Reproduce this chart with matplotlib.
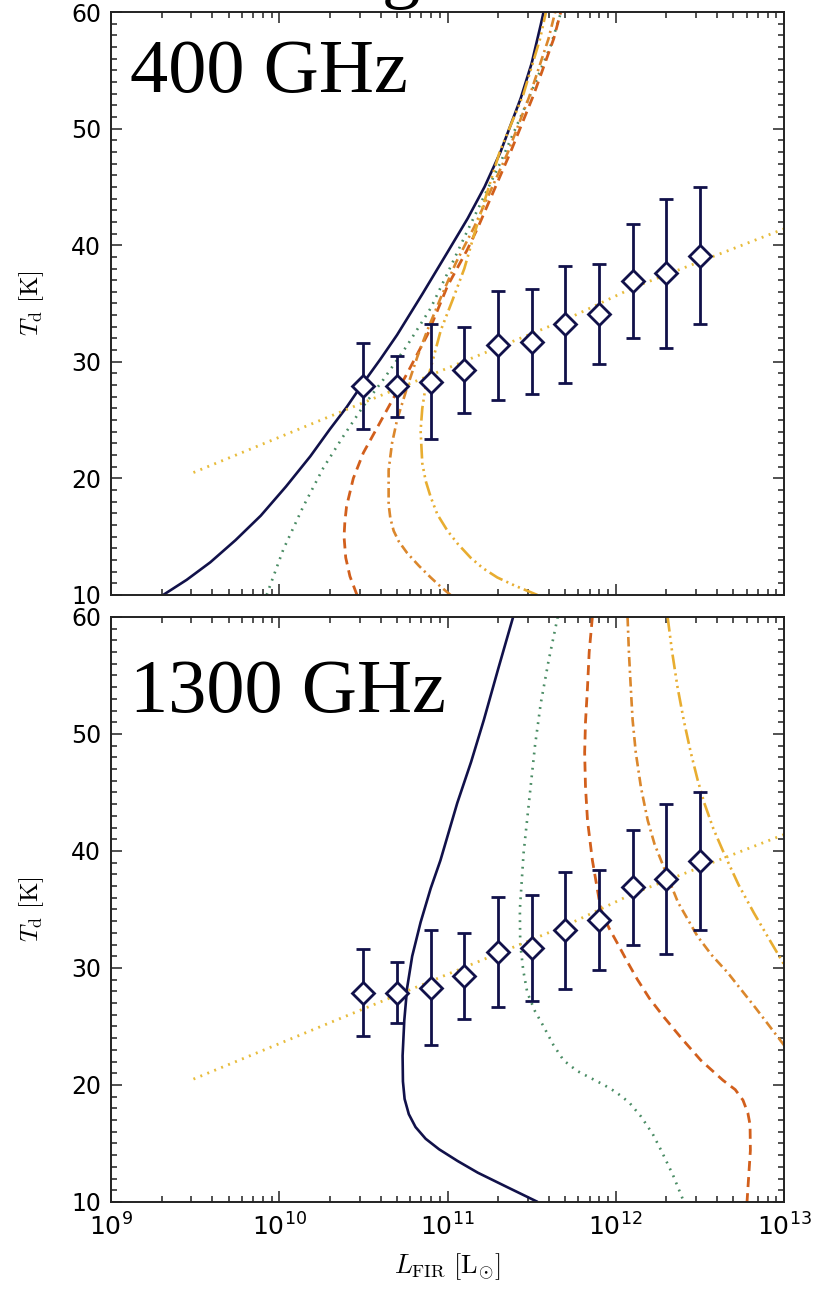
import numpy as np
import matplotlib
matplotlib.use("Agg")
import matplotlib.pyplot as plt

plt.rcParams['mathtext.fontset'] = 'cm'
plt.rcParams['font.family'] = 'DejaVu Sans'

# binned sample: log10(L_FIR / Lsun), dust temperature and error range [K]
log_lfir = [10.5, 10.7, 10.9, 11.1, 11.3, 11.5, 11.7, 11.9, 12.1, 12.3, 12.5]
td = [27.9, 27.9, 28.3, 29.3, 31.4, 31.7, 33.2, 34.1, 36.9, 37.6, 39.1]
td_hi = [31.6, 30.5, 33.2, 33.0, 36.1, 36.2, 38.2, 38.4, 41.8, 44.0, 45.0]
td_lo = [24.2, 25.3, 23.4, 25.6, 26.7, 27.2, 28.2, 29.8, 32.0, 31.2, 33.2]

# L-T relation drawn as a dotted line
rel_logl = [9.49, 10.34, 11.7, 12.11, 13.0]
rel_td = [20.5, 25.55, 33.6, 36.4, 41.4]

# selection limits at 400 GHz (log10 L, T)
lim400_a_l = [9.31, 9.45, 9.59, 9.74, 9.89, 10.04, 10.185, 10.30, 10.40, 10.49, 10.60, 10.70,
              10.85, 11.0, 11.12, 11.22, 11.315, 11.435, 11.50, 11.554, 11.571]
lim400_a_t = [10.0, 11.3, 12.8, 14.7, 16.8, 19.3, 21.9, 24.2, 26.1, 28.0, 30.2, 32.3,
              35.8, 39.4, 42.3, 45.0, 48.0, 52.6, 55.6, 58.9, 60.0]
lim400_b_l = [9.925, 10.024, 10.143, 10.262, 10.38, 10.5, 10.62, 10.76, 10.9, 11.0, 11.117,
              11.315, 11.474, 11.613, 11.675]
lim400_b_t = [10.0, 13.9, 17.6, 20.9, 23.6, 26.2, 28.5, 31.4, 34.6, 37.6, 41.2,
              47.1, 52.3, 57.1, 60.0]
lim400_c_l = [10.462, 10.42, 10.395, 10.385, 10.39, 10.40, 10.44, 10.50, 10.58, 10.66, 10.76,
              10.88, 11.0, 11.117, 11.18, 11.375, 11.512, 11.631, 11.673]
lim400_c_t = [10.0, 11.6, 13.2, 15.0, 16.3, 17.6, 20.0, 22.2, 24.3, 26.4, 29.0,
              32.3, 36.5, 39.6, 41.5, 48.0, 52.9, 57.7, 60.0]
lim400_d_l = [11.018, 10.96, 10.90, 10.83, 10.76, 10.71, 10.68, 10.66, 10.65, 10.65, 10.67,
              10.70, 10.76, 10.82, 10.88, 10.96, 11.05, 11.16, 11.36, 11.49, 11.60, 11.64]
lim400_d_t = [10.0, 10.7, 11.5, 12.5, 13.6, 14.6, 15.5, 16.6, 17.8, 20.7, 23.0,
              25.0, 27.8, 30.4, 32.7, 35.5, 38.5, 41.6, 48.0, 52.9, 57.7, 60.0]
lim400_e_l = [11.534, 11.40, 11.296, 11.21, 11.137, 11.06, 11.0, 10.94, 10.9, 10.87, 10.85,
              10.84, 10.85, 10.87, 10.91, 10.96, 11.03, 11.10, 11.16, 11.31, 11.45, 11.55, 11.585]
lim400_e_t = [10.0, 10.8, 11.5, 12.3, 13.2, 14.4, 15.5, 16.9, 18.4, 19.8, 21.3,
              24.1, 26.0, 27.9, 30.0, 32.7, 35.3, 38.0, 41.0, 48.0, 52.9, 57.7, 60.0]

# selection limits at 1300 GHz
lim1300_a_l = [11.39, 11.30, 11.216, 11.14, 11.058, 10.958, 10.90, 10.84, 10.79, 10.76, 10.743,
               10.733, 10.735, 10.745, 10.77, 10.81, 10.87, 10.95, 11.06, 11.18, 11.35, 11.536]
lim1300_a_t = [60.0, 55.5, 51.2, 47.6, 44.1, 39.2, 36.8, 33.9, 31.0, 28.3, 25.5,
               22.5, 20.3, 18.8, 17.5, 16.4, 15.4, 14.5, 13.5, 12.5, 11.3, 10.0]
lim1300_b_l = [11.655, 11.60, 11.554, 11.52, 11.494, 11.452, 11.43, 11.432, 11.45, 11.474, 11.52,
               11.571, 11.63, 11.69, 11.77, 11.85, 11.93, 12.0, 12.08, 12.15, 12.22, 12.27,
               12.34, 12.405]
lim1300_b_t = [60.0, 56.2, 52.6, 49.0, 45.5, 39.8, 35.0, 32.1, 29.8, 27.9, 26.3,
               25.0, 23.4, 22.1, 21.2, 20.6, 20.0, 19.4, 18.5, 17.3, 15.8, 14.4,
               12.3, 10.0]
lim1300_c_l = [11.861, 11.842, 11.832, 11.82, 11.815, 11.82, 11.832, 11.861, 11.911, 11.96, 12.01,
               12.07, 12.129, 12.2, 12.286, 12.39, 12.506, 12.637, 12.71, 12.756, 12.785, 12.798,
               12.80, 12.79, 12.78]
lim1300_c_t = [60.0, 57.0, 54.0, 51.0, 48.4, 45.5, 42.6, 39.2, 35.0, 33.4, 32.1,
               30.5, 29.0, 27.4, 25.8, 24.0, 22.1, 20.4, 19.6, 18.7, 17.6, 16.6,
               14.4, 12.2, 10.0]
lim1300_d_l = [12.07, 12.078, 12.089, 12.10, 12.119, 12.15, 12.19, 12.23, 12.28, 12.37, 12.486,
               12.57, 12.665, 12.83, 13.0]
lim1300_d_t = [60.0, 57.0, 54.0, 51.2, 48.4, 45.4, 42.6, 40.6, 38.8, 35.6, 32.7,
               31.1, 29.6, 26.6, 23.4]
lim1300_e_l = [12.308, 12.335, 12.367, 12.405, 12.446, 12.486, 12.526, 12.58, 12.643, 12.73,
               12.821, 12.91, 13.0]
lim1300_e_t = [60.0, 57.0, 54.0, 51.1, 48.4, 46.1, 44.1, 41.9, 39.8, 37.1,
               34.7, 32.5, 30.3]

navy = '#11114a'
styles = [
    dict(color=navy, lw=1.9, ls='-'),
    dict(color='#4a8c64', lw=1.9, ls=(0, (0.7, 2.2))),
    dict(color='#d25f1c', lw=2.0, ls=(0, (3.6, 2.2))),
    dict(color='#db872c', lw=1.9, ls=(0, (3.6, 1.6, 0.8, 1.6))),
    dict(color='#e8ad30', lw=1.9, ls=(0, (5.6, 1.6, 0.8, 1.6, 0.8, 1.6, 0.8, 1.6))),
]

panels = [
    ('400 GHz', 0.8628, [(lim400_a_l, lim400_a_t), (lim400_b_l, lim400_b_t), (lim400_c_l, lim400_c_t),
                         (lim400_d_l, lim400_d_t), (lim400_e_l, lim400_e_t)]),
    ('1300 GHz', 0.8376, [(lim1300_a_l, lim1300_a_t), (lim1300_b_l, lim1300_b_t), (lim1300_c_l, lim1300_c_t),
                          (lim1300_d_l, lim1300_d_t), (lim1300_e_l, lim1300_e_t)]),
]

fig = plt.figure(figsize=(8.15, 12.92), dpi=100)
rects = [[0.1362, 0.5395, 0.8258, 0.4512], [0.1362, 0.0697, 0.8258, 0.4528]]

lum = 10 ** np.array(log_lfir)
yerr = [np.array(td) - np.array(td_lo), np.array(td_hi) - np.array(td)]

for rect, (label, ylab, curves) in zip(rects, panels):
    ax = fig.add_axes(rect)
    ax.set_xscale('log')
    ax.set_xlim(1e9, 1e13)
    ax.set_ylim(10, 60)

    for (cl, ct), st in zip(curves, styles):
        ax.plot(10 ** np.array(cl), ct, dash_capstyle='butt', solid_capstyle='butt',
                solid_joinstyle='round', **st)

    ax.plot(10 ** np.array(rel_logl), rel_td, color='#e8bc3c', lw=2.0, ls=(0, (0.7, 2.0)))

    ax.errorbar(lum, td, yerr=yerr, fmt='D', ms=11, mfc='white', mec=navy, mew=2.0,
                ecolor=navy, elinewidth=2.0, capsize=5, capthick=2.0, zorder=5)

    ax.text(0.028, ylab, label, transform=ax.transAxes, family='Liberation Serif',
            fontsize=55, va='baseline', ha='left', color='black')

    ax.set_yticks([10, 20, 30, 40, 50, 60])
    ax.set_yticks(np.arange(10, 61, 1), minor=True)
    ax.tick_params(which='both', direction='in', top=True, right=True, width=1.1, color='#222222')
    ax.tick_params(which='major', length=8, labelsize=17, pad=7)
    ax.tick_params(which='minor', length=4.3)
    for sp in ax.spines.values():
        sp.set_linewidth(1.4)
        sp.set_color('#222222')
    ax.set_ylabel(r'$T_{\rm d}\ [{\rm K}]$', fontsize=18, labelpad=18)
    if label == '400 GHz':
        ax.tick_params(axis='x', labelbottom=False)
    else:
        ax.tick_params(axis='x', labelsize=18, pad=8)
        ax.set_xlabel(r'$L_{\rm FIR}\ [{\rm L}_{\odot}]$', fontsize=19, labelpad=8)

# descender of the heading line above the plots
fig.text(0.469, 1.0046, 'g', family='Liberation Serif', fontsize=55, va='baseline', ha='left')

fig.savefig('out.png', dpi=100)
